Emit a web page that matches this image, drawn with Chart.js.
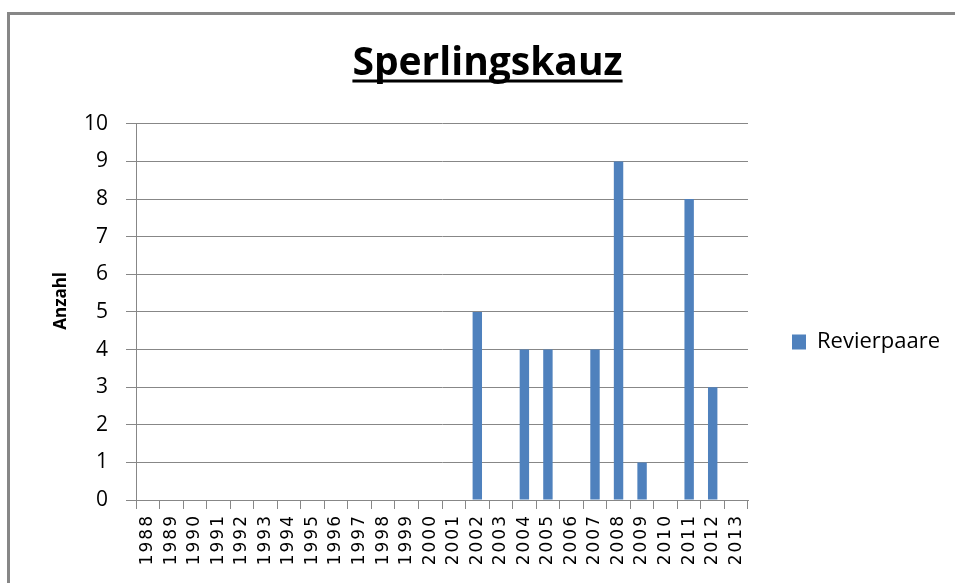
<!DOCTYPE html>
<html>
<head>
<meta charset="utf-8">
<title>Sperlingskauz</title>
<script src="https://cdn.jsdelivr.net/npm/chart.js@4"></script>
<style>
  html, body { margin: 0; padding: 0; background: #ffffff; overflow: hidden; }
  #rahmen {
    position: absolute; left: 7px; top: 12px; width: 1000px; height: 600px;
    border-left: 3px solid #878787; border-top: 3px solid #878787;
  }
  #diagramm { position: absolute; left: 0; top: 0; }
</style>
</head>
<body>
<div id="rahmen"><canvas id="diagramm" width="955" height="568"></canvas></div>
<script>
// Daten
const jahre = ["1988", "1989", "1990", "1991", "1992", "1993", "1994", "1995", "1996",
  "1997", "1998", "1999", "2000", "2001", "2002", "2003", "2004", "2005", "2006",
  "2007", "2008", "2009", "2010", "2011", "2012", "2013"];
const revierpaare = [0, 0, 0, 0, 0, 0, 0, 0, 0, 0, 0, 0, 0, 0,
  5, 0, 4, 4, 0, 4, 9, 1, 0, 8, 3, 0];
const yMin = 0;
const yMax = 10;
const yStep = 1;

const schrift = "'Open Sans', 'DejaVu Sans', sans-serif";
const grau = '#878787';
Chart.defaults.color = '#000000';
Chart.defaults.font.family = schrift;

// Legende: Breite aus dem Text berechnen, damit die Zeichenflaeche bei x=738 endet
const legendeFont = { family: schrift, size: 22 };
const messCtx = document.createElement('canvas').getContext('2d');
messCtx.font = legendeFont.size + 'px ' + schrift;
const textBreite = messCtx.measureText('Revierpaare').width;
const legendePadding = 44;
const legendeBreite = 14 + legendeFont.size / 2 + textBreite + legendePadding + 10;
const rand = Math.max(0, 955 - 738 - legendeBreite);  // links und rechts gleich, Titel bleibt mittig

// Titel unterstreichen
const unterstreichen = {
  id: 'unterstreichen',
  afterDraw(chart) {
    const t = chart.titleBlock;
    const opts = t.options;
    const font = Chart.helpers.toFont(opts.font);
    const ctx = chart.ctx;
    ctx.save();
    ctx.font = font.string;
    ctx.textBaseline = 'middle';
    const breite = ctx.measureText(opts.text).width;
    const unter = ctx.measureText('S').actualBoundingBoxDescent;
    const mitte = t.top + Chart.helpers.toPadding(opts.padding).top + font.lineHeight / 2;
    const cx = (t.left + t.right) / 2;
    ctx.fillStyle = '#000000';
    ctx.fillRect(cx - breite / 2, mitte + unter + 5, breite, 3);
    ctx.restore();
  }
};

// Jahreszahlen etwas gesperrt zeichnen
const sperren = {
  id: 'sperren',
  afterUpdate(chart) {
    const xs = chart.scales.x;
    if (!xs || xs._gesperrt) return;
    const orig = xs.drawLabels.bind(xs);
    xs.drawLabels = function (area) {
      const ctx = this.ctx;
      const alt = ctx.letterSpacing;
      ctx.letterSpacing = '2px';
      orig(area);
      ctx.letterSpacing = alt;
    };
    xs._gesperrt = true;
  }
};

new Chart(document.getElementById('diagramm'), {
  type: 'bar',
  data: {
    labels: jahre,
    datasets: [{
      label: 'Revierpaare',
      data: revierpaare,
      backgroundColor: '#4f81bd',
      borderWidth: 0,
      barPercentage: 0.4,
      categoryPercentage: 1.0
    }]
  },
  plugins: [unterstreichen, sperren],
  options: {
    responsive: false,
    animation: false,
    layout: { padding: { left: rand, right: rand, top: 0, bottom: 0 } },
    plugins: {
      title: {
        display: true,
        text: 'Sperlingskauz',
        color: '#000000',
        font: { family: schrift, size: 39, weight: 'bold' },
        padding: { top: 25, bottom: 37 }
      },
      legend: {
        position: 'right',
        fullSize: false,
        title: { display: true, text: '', font: { size: 10 }, padding: { top: 48, bottom: 0 } },
        labels: {
          boxWidth: 14,
          boxHeight: 15,
          padding: legendePadding,
          color: '#000000',
          font: legendeFont
        }
      },
      tooltip: { enabled: false }
    },
    scales: {
      x: {
        grid: {
          display: true,
          drawOnChartArea: false,
          drawTicks: true,
          tickLength: 9,
          color: grau
        },
        border: { color: grau },
        ticks: {
          minRotation: 90,
          maxRotation: 90,
          autoSkip: false,
          padding: 5,
          color: '#000000',
          font: { family: "'DejaVu Sans', sans-serif", size: 17 }
        },
        afterFit: scale => { scale.height = 83; }
      },
      y: {
        min: yMin,
        max: yMax,
        ticks: {
          stepSize: yStep,
          padding: 18,
          color: '#000000',
          font: { family: schrift, size: 21 }
        },
        grid: { color: grau, tickLength: 10 },
        border: { color: grau },
        title: {
          display: true,
          text: '\u00a0\u00a0\u00a0\u00a0\u00a0Anzahl',
          color: '#000000',
          font: { family: schrift, size: 17, weight: 'bold' },
          padding: { top: 41 - rand, bottom: 0 }
        },
        afterFit: scale => { scale.width = 126 - rand; }
      }
    }
  }
});
</script>
</body>
</html>
